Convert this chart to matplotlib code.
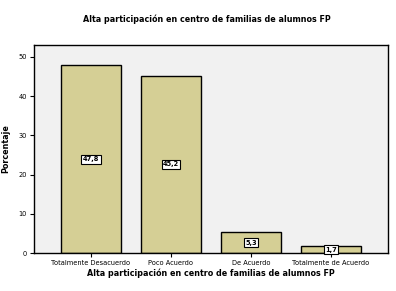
import numpy as np
import matplotlib.pyplot as plt

categories = ["Totalmente Desacuerdo", "Poco Acuerdo", "De Acuerdo", "Totalmente de Acuerdo"]
percent = [47.8, 45.2, 5.3, 1.7]
labels = ["47,8", "45,2", "5,3", "1,7"]
yticks = [0, 10, 20, 30, 40, 50]


def main():
    fig = plt.figure(figsize=(3.96, 2.91), dpi=100)
    ax = fig.add_axes([34 / 396, 38 / 291, 354 / 396, 208 / 291])
    ax.set_facecolor("#f1f1f1")

    x = np.arange(len(categories))
    ax.bar(x, percent, width=0.75, color="#d5cf95", edgecolor="black", linewidth=1.0)
    for xi, v, lab in zip(x, percent, labels):
        ax.text(xi, v / 2, lab, ha="center", va="center", fontsize=4.8, fontweight="bold",
                bbox=dict(boxstyle="square,pad=0.2", facecolor="white", edgecolor="black", linewidth=0.8))

    ax.set_xlim(-0.7125, 3.7125)
    ax.set_ylim(0, 53)
    ax.set_xticks(x)
    ax.set_xticklabels(categories, fontsize=4.8)
    ax.set_yticks(yticks)
    ax.set_yticklabels([str(t) for t in yticks], fontsize=4.8)
    ax.tick_params(length=3, width=0.8, pad=2)
    for s in ax.spines.values():
        s.set_linewidth(1.0)

    ax.set_xlabel("Alta participación en centro de familias de alumnos FP", fontsize=5.8, fontweight="bold", labelpad=2)
    ax.set_ylabel("Porcentaje", fontsize=5.8, fontweight="bold")
    ax.yaxis.set_label_coords(-24 / 354, 0.5)
    fig.text(207 / 396, 1 - 19 / 291, "Alta participación en centro de familias de alumnos FP",
             ha="center", va="center", fontsize=5.8, fontweight="bold")

    fig.savefig("out.png", dpi=100)


main()
